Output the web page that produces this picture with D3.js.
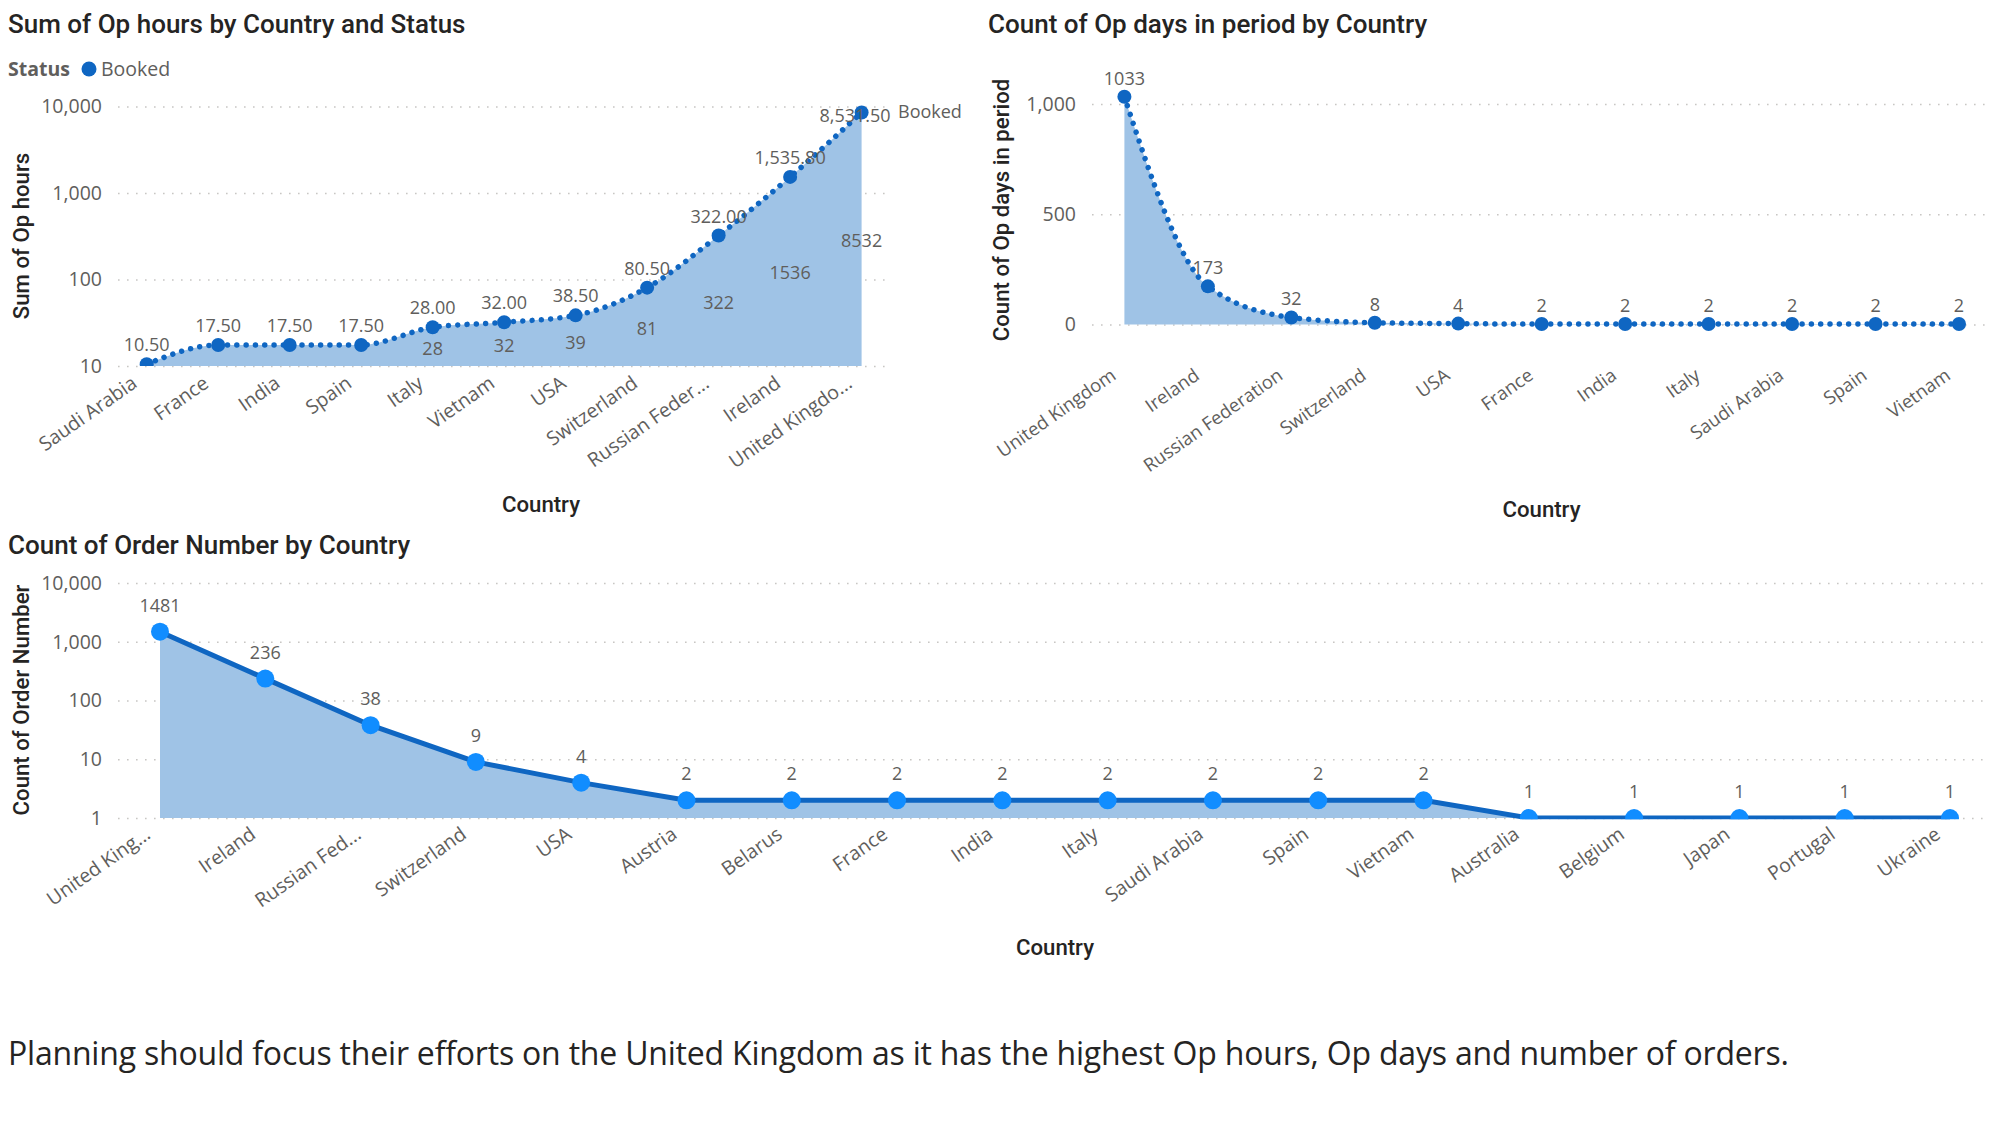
<!DOCTYPE html>
<html><head><meta charset="utf-8">
<script src="https://cdn.jsdelivr.net/npm/d3@7"></script>
<style>
html,body{margin:0;padding:0;background:#fff}
text{font-family:"Open Sans",sans-serif}
.ttl{font-family:Roboto,sans-serif;font-weight:500;fill:#252423}
</style></head><body>
<svg id="c" width="2000" height="1140" xmlns="http://www.w3.org/2000/svg"></svg>
<script>
// ---- data ----
const hoursCountries = ["Saudi Arabia","France","India","Spain","Italy","Vietnam","USA","Switzerland","Russian Feder...","Ireland","United Kingdo..."];
const hoursValues = [10.5,17.5,17.5,17.5,28,32,38.5,80.5,322,1535.8,8531.5];
const hoursLabels = ["10.50","17.50","17.50","17.50","28.00","32.00","38.50","80.50","322.00","1,535.80","8,531.50"];
const hoursAreaLabels = ["","","","","28","32","39","81","322","1536","8532"];
const hoursTicks = [10,100,1000,10000];

const daysCountries = ["United Kingdom","Ireland","Russian Federation","Switzerland","USA","France","India","Italy","Saudi Arabia","Spain","Vietnam"];
const daysValues = [1033,173,32,8,4,2,2,2,2,2,2];
const daysTicks = [0,500,1000];

const orderCountries = ["United King...","Ireland","Russian Fed...","Switzerland","USA","Austria","Belarus","France","India","Italy","Saudi Arabia","Spain","Vietnam","Australia","Belgium","Japan","Portugal","Ukraine"];
const orderValues = [1481,236,38,9,4,2,2,2,2,2,2,2,2,1,1,1,1,1];
const orderTicks = [1,10,100,1000,10000];

const GRAY="#605E5C", LINE="#0F66C2", AREA="#9FC3E6", PT3="#118DFF";
const svg=d3.select("#c");
const fmt=d3.format(",");

function panel(o){
  const g=svg.append("g");
  const id="clip"+o.key;
  svg.append("defs").append("clipPath").attr("id",id).append("rect")
    .attr("x",o.gridL-20).attr("y",o.yTop-40).attr("width",o.gridR-o.gridL+40).attr("height",o.yBottom-o.yTop+40+o.clipPad);
  const y=(o.log?d3.scaleLog().base(10):d3.scaleLinear()).domain(o.domain).range([o.yBottom,o.yTop]);
  const x=d3.scalePoint().domain(o.cats).range([o.x0,o.x1]);
  const pos=(d,i)=>x(o.cats[i]);

  // grid
  g.append("g").selectAll("line").data(o.ticks).join("line")
    .attr("x1",o.gridL).attr("x2",o.gridR).attr("y1",d=>y(d)+.5).attr("y2",d=>y(d)+.5)
    .attr("stroke","#C8C6C4").attr("stroke-width",1.6).attr("stroke-dasharray","1.6 7.4");

  // y axis
  const ya=d3.axisLeft(y).tickValues(o.ticks).tickFormat(fmt).tickSize(0).tickPadding(0);
  const yg=g.append("g").attr("transform",`translate(${o.yLabelX},0)`).call(ya);
  yg.select(".domain").remove();
  yg.selectAll("text").attr("fill",GRAY).attr("font-size",19.5).attr("font-family","'Open Sans',sans-serif");

  // x axis
  const xa=d3.axisBottom(x).tickSize(0).tickPadding(0);
  const xg=g.append("g").attr("transform",`translate(0,${o.xLabelY})`).call(xa);
  xg.select(".domain").remove();
  xg.selectAll("text").attr("fill",GRAY).attr("font-size",o.xFont||19.5).attr("font-family","'Open Sans',sans-serif")
    .attr("text-anchor","end").attr("dy",0).attr("y",0)
    .attr("dominant-baseline","central")
    .attr("transform",`translate(${o.xLabelDx},0) rotate(-35)`);

  const curve=o.smooth?d3.curveMonotoneX:d3.curveLinear;
  const base=o.yBottom;
  const area=d3.area().x(pos).y0(base).y1(d=>y(d)).curve(curve);
  const line=d3.line().x(pos).y(d=>y(d)).curve(curve);
  const clip=g.append("g").attr("clip-path",`url(#${id})`);
  clip.append("path").attr("d",area(o.vals)).attr("fill",AREA);
  const lp=clip.append("path").attr("d",line(o.vals)).attr("fill","none").attr("stroke",LINE)
    .attr("stroke-width",o.lineW);
  if(o.dotted){lp.attr("stroke-dasharray","0.01 9.3").attr("stroke-linecap","round");}
  clip.append("g").selectAll("circle").data(o.vals).join("circle")
    .attr("cx",pos).attr("cy",d=>y(d)).attr("r",o.r).attr("fill",o.ptColor);

  // data labels: kept inside the plot when they would run past its top edge
  const tooHigh=d=>y(d)-o.labelUp<o.yTop;
  g.append("g").selectAll("text").data(o.vals).join("text")
    .attr("x",(d,i)=>pos(d,i)-(tooHigh(d)?(o.insideDx||0):0))
    .attr("y",d=>tooHigh(d)&&o.insideDx?y(d)+3:y(d)-o.labelUp)
    .attr("text-anchor","middle").attr("dominant-baseline","central")
    .attr("fill",GRAY).attr("font-size",18)
    .text((d,i)=>o.labels?o.labels[i]:d);
  if(o.areaLabels){
    g.append("g").selectAll("text").data(o.vals).join("text")
      .attr("x",pos).attr("y",d=>(y(d)+base)/2+1)
      .attr("text-anchor","middle").attr("dominant-baseline","central")
      .attr("fill",GRAY).attr("font-size",18)
      .text((d,i)=>o.areaLabels[i]);
  }

  // titles
  g.append("text").attr("class","ttl").attr("x",o.tx).attr("y",o.ty).attr("font-size",26)
    .attr("dominant-baseline","central").text(o.title);
  g.append("text").attr("class","ttl").attr("x",o.xtx).attr("y",o.xty).attr("font-size",22.2)
    .attr("text-anchor","middle").attr("dominant-baseline","central").text("Country");
  g.append("text").attr("class","ttl")
    .attr("transform",`translate(${o.ytx},${o.yty}) rotate(-90)`).attr("font-size",22.2)
    .attr("text-anchor","middle").attr("dominant-baseline","central").text(o.ytitle);
  return {x,y};
}

panel({key:"a",cats:hoursCountries,vals:hoursValues,labels:hoursLabels,areaLabels:hoursAreaLabels,
  log:true,domain:[10,10000],ticks:hoursTicks,yBottom:366,yTop:106.5,x0:146.7,x1:861.6,gridL:118,gridR:890,
  yLabelX:102,xLabelY:380,xLabelDx:-13,clipPad:0,smooth:true,dotted:true,lineW:5.5,r:7,ptColor:LINE,labelUp:20,insideDx:6.5,
  title:"Sum of Op hours by Country and Status",tx:8,ty:24,xtx:541,xty:504,ytx:21,yty:236,ytitle:"Sum of Op hours"});

panel({key:"b",cats:daysCountries,vals:daysValues,
  log:false,domain:[0,1000],ticks:daysTicks,yBottom:324.5,yTop:104,x0:1124.4,x1:1959,gridL:1092,gridR:1992,
  yLabelX:1076,xLabelY:372,xLabelDx:-12,xFont:18.5,clipPad:20,smooth:true,dotted:true,lineW:5.5,r:7,ptColor:LINE,labelUp:19,
  title:"Count of Op days in period by Country",tx:988,ty:24,xtx:1541.5,xty:509,ytx:1001,yty:210,ytitle:"Count of Op days in period"});

panel({key:"c",cats:orderCountries,vals:orderValues,
  log:true,domain:[1,10000],ticks:orderTicks,yBottom:818,yTop:583,x0:160,x1:1950,gridL:118,gridR:1985,
  yLabelX:102,xLabelY:831,xLabelDx:-13,clipPad:1.3,smooth:false,dotted:false,lineW:5,r:9,ptColor:PT3,labelUp:27,
  title:"Count of Order Number by Country",tx:8,ty:544.7,xtx:1055,xty:946.5,ytx:21,yty:700,ytitle:"Count of Order Number"});

// legend + series end label
svg.append("text").attr("x",8).attr("y",68.5).attr("dominant-baseline","central").attr("font-size",19.5)
  .attr("font-weight",700).attr("fill",GRAY).text("Status");
svg.append("circle").attr("cx",89).attr("cy",69).attr("r",7.5).attr("fill",LINE);
svg.append("text").attr("x",101).attr("y",68.5).attr("dominant-baseline","central").attr("font-size",19.5)
  .attr("fill",GRAY).text("Booked");
svg.append("text").attr("x",898).attr("y",111).attr("dominant-baseline","central").attr("font-size",18)
  .attr("fill",GRAY).text("Booked");

// commentary
svg.append("text").attr("x",8).attr("y",1052).attr("dominant-baseline","central").attr("font-size",32)
  .attr("letter-spacing",-0.2).attr("fill","#252423").text("Planning should focus their efforts on the United Kingdom as it has the highest Op hours, Op days and number of orders.");
</script>
</body></html>
